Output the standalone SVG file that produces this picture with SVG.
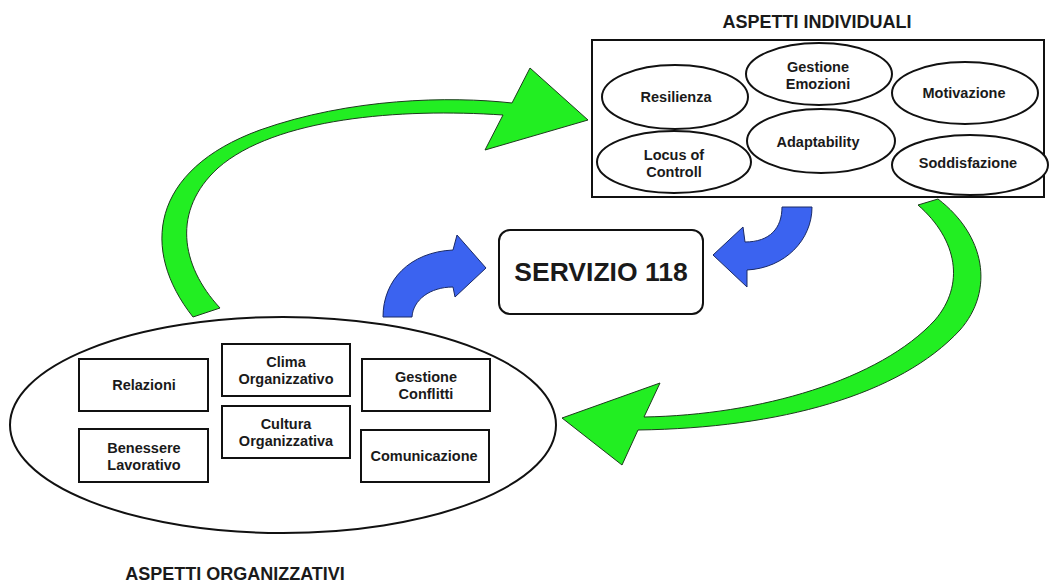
<svg xmlns="http://www.w3.org/2000/svg" width="1049" height="583" viewBox="0 0 1049 583">
<style>
text{font-family:"Liberation Sans",Arial,sans-serif;font-weight:bold;fill:#1a1a1a;text-anchor:middle}
.t{font-size:14.5px}
.title{font-size:18px}
.big{font-size:26.5px}
.sh{fill:#fff;stroke:#111;stroke-width:2}
.green{fill:#22ee22;stroke:#1d3a1d;stroke-width:1}
.blue{fill:#3b63f0;stroke:#1a2a66;stroke-width:1}
</style>
<rect width="1049" height="583" fill="#fff"/>
<g id="individuali">
<rect class="sh" x="592" y="40" width="452" height="157"/>
<text class="title" x="817" y="28">ASPETTI INDIVIDUALI</text>
</g>
<g id="resilienza"><ellipse class="sh" cx="675" cy="97" rx="73" ry="32"/><text class="t" x="676" y="102">Resilienza</text></g>
<g id="gestione-emozioni"><ellipse class="sh" cx="819" cy="74" rx="73" ry="31"/><text class="t" x="818" y="72">Gestione</text><text class="t" x="818" y="89">Emozioni</text></g>
<g id="motivazione"><ellipse class="sh" cx="965" cy="93" rx="73" ry="31"/><text class="t" x="964" y="98">Motivazione</text></g>
<g id="locus"><ellipse class="sh" cx="674" cy="162" rx="77" ry="31"/><text class="t" x="674" y="160">Locus of</text><text class="t" x="674" y="177">Controll</text></g>
<g id="adaptability"><ellipse class="sh" cx="821" cy="141" rx="74" ry="32"/><text class="t" x="818" y="147">Adaptability</text></g>
<g id="soddisfazione"><ellipse class="sh" cx="970" cy="165" rx="78" ry="30"/><text class="t" x="968" y="168">Soddisfazione</text></g>
<g id="servizio"><rect class="sh" x="499" y="230" width="204" height="84" rx="11"/><text class="big" x="601" y="281">SERVIZIO 118</text></g>
<g id="organizzativi">
<ellipse class="sh" cx="283" cy="425" rx="273" ry="108"/>
<text class="title" x="235" y="580">ASPETTI ORGANIZZATIVI</text>
</g>
<g id="relazioni"><rect class="sh" x="79" y="359" width="129" height="52"/><text class="t" x="144" y="390">Relazioni</text></g>
<g id="clima"><rect class="sh" x="222" y="344" width="128" height="52"/><text class="t" x="286" y="367">Clima</text><text class="t" x="286" y="384">Organizzativo</text></g>
<g id="gestione-conflitti"><rect class="sh" x="362" y="359" width="128" height="52"/><text class="t" x="426" y="382">Gestione</text><text class="t" x="426" y="399">Conflitti</text></g>
<g id="benessere"><rect class="sh" x="79" y="429" width="129" height="53"/><text class="t" x="144" y="453">Benessere</text><text class="t" x="144" y="470">Lavorativo</text></g>
<g id="cultura"><rect class="sh" x="222" y="406" width="128" height="52"/><text class="t" x="286" y="429">Cultura</text><text class="t" x="286" y="446">Organizzativa</text></g>
<g id="comunicazione"><rect class="sh" x="361" y="430" width="128" height="52"/><text class="t" x="424" y="461">Comunicazione</text></g>
<g id="connectors">
<path class="green" d="M193,317 C140,250 150,170 260,130 C350,98 450,96 512,103 L530,68 L588,120 L485,150 L503,115 C400,108 275,118 218,168 C172,210 180,265 220,308 Z"/>
<path class="green" d="M938,199 C985,235 995,290 960,330 C900,395 780,428 638,430 L622,465 L562,418 L660,383 L644,417 C760,415 880,380 935,320 C965,285 958,240 918,205 Z"/>
<path class="blue" d="M383,317 C383,280 410,252 453,250 L457,235 L486,268 L455,297 L453,287 C430,287 413,300 412,317 Z"/>
<path class="blue" d="M782,207 C782,228 770,242 745,242 L743,227 L713,255 L747,287 L747,270 C785,268 812,240 812,207 Z"/>
</g>
</svg>
